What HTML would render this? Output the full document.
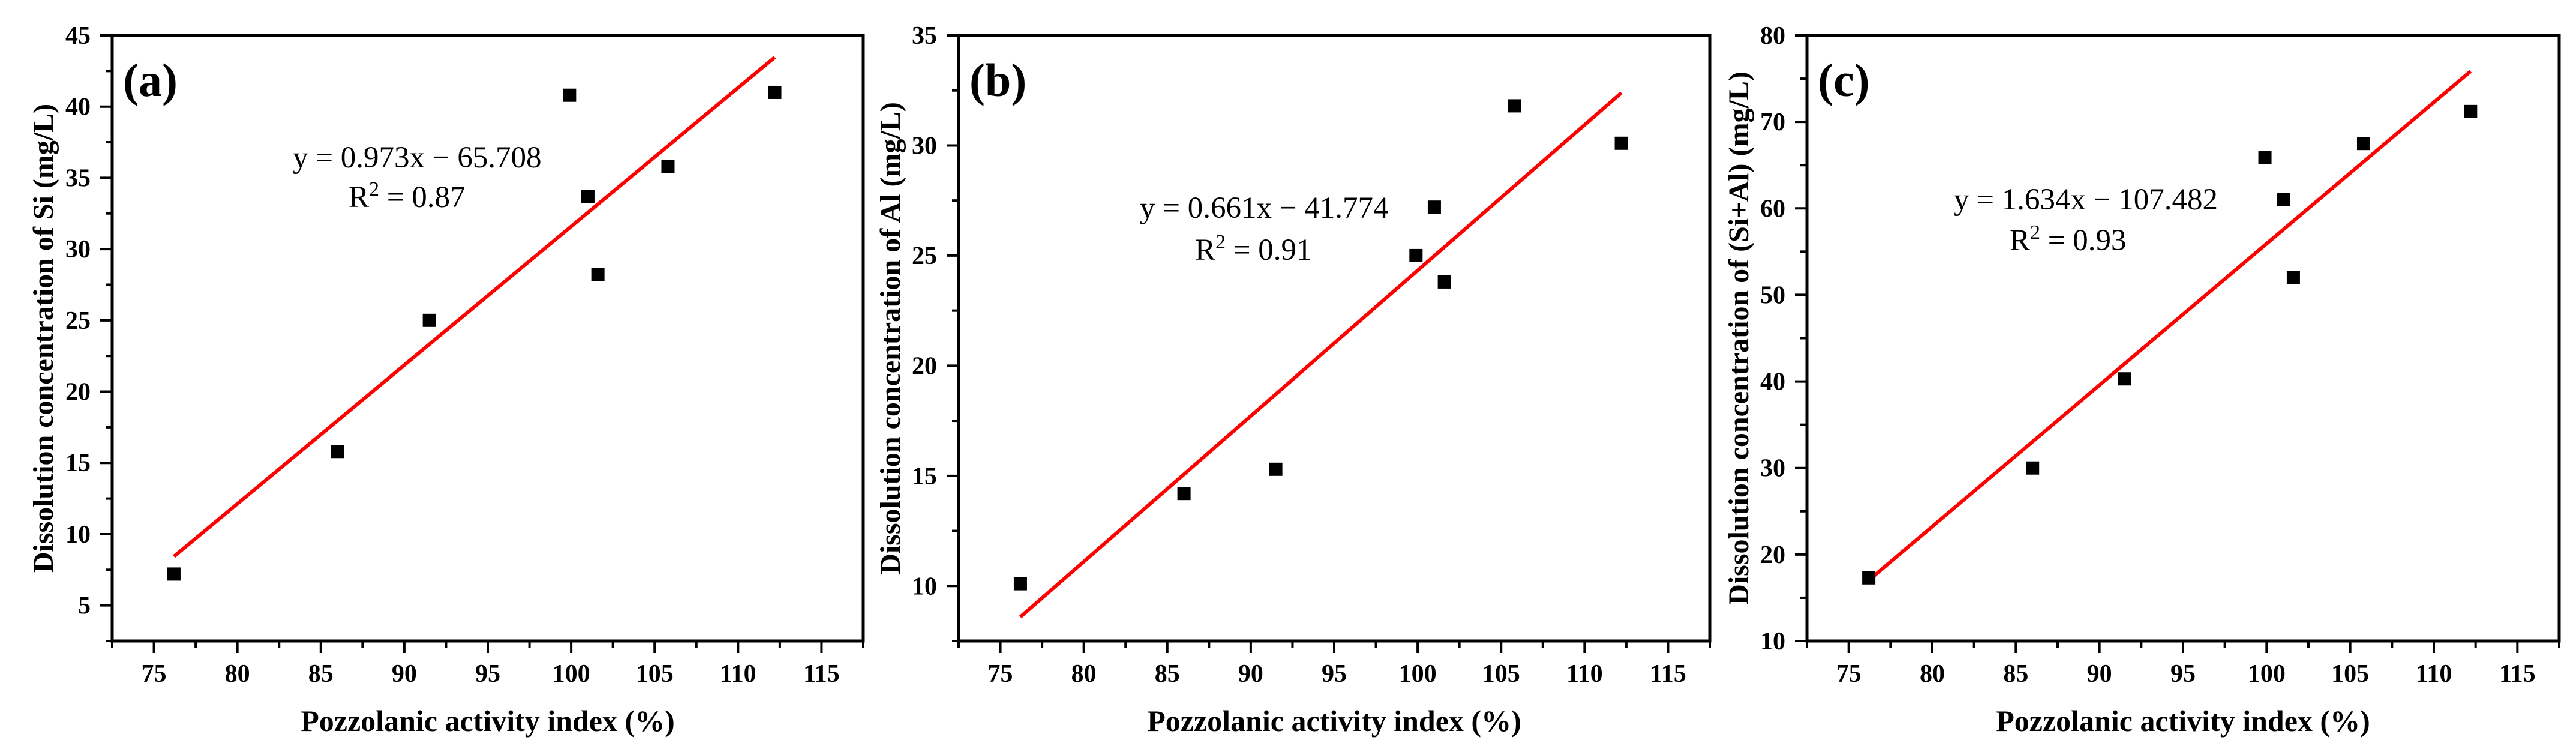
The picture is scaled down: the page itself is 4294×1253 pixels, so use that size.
<!DOCTYPE html>
<html><head><meta charset="utf-8"><style>
html,body{margin:0;padding:0;background:#fff}
svg{display:block;font-family:"Liberation Serif",serif}
</style></head><body>
<svg id="fig" width="4294" height="1253" viewBox="0 0 4294 1253" xmlns="http://www.w3.org/2000/svg"></svg>
<script>
const xValues = [76.2, 86.0, 91.5, 99.9, 101.0, 101.6, 105.8, 112.2];
const siValues = [7.2, 15.8, 25.0, 40.8, 33.7, 28.2, 35.8, 41.0];
const alValues = [10.1, 14.2, 15.3, 25.0, 27.2, 23.8, 31.8, 30.1];
const sumValues = [17.3, 30.0, 40.3, 65.9, 61.0, 52.0, 67.5, 71.2];
const xTicks = [75, 80, 85, 90, 95, 100, 105, 110, 115];
const siTicks = [5, 10, 15, 20, 25, 30, 35, 40, 45];
const alTicks = [10, 15, 20, 25, 30, 35];
const sumTicks = [10, 20, 30, 40, 50, 60, 70, 80];
const siFit = [0.973, -65.708];
const alFit = [0.661, -41.774];
const sumFit = [1.634, -107.482];
const fitRange = [76.2, 112.2];

const NS = "http://www.w3.org/2000/svg";
const svg = document.getElementById('fig');
function mk(tag, attrs, parent, text) {
  const e = document.createElementNS(NS, tag);
  for (const k in attrs) e.setAttribute(k, attrs[k]);
  if (text !== undefined) e.textContent = text;
  (parent || svg).appendChild(e);
  return e;
}

const panels = [
  {id:'a', left:187, right:1439, ymin:2.5, ymax:45, yStep:5, minorY:2.5, ticks:siTicks, data:siValues, fit:siFit,
   ytitle:'Dissolution concentration of Si (mg/L)', titleX:72,
   eq:'y = 0.973x − 65.708', r2:'0.87', eqX:488, eqY:279, r2X:581, r2Y:345},
  {id:'b', left:1598, right:2850, ymin:7.5, ymax:35, yStep:5, minorY:2.5, ticks:alTicks, data:alValues, fit:alFit,
   ytitle:'Dissolution concentration of Al (mg/L)', titleX:1484,
   eq:'y = 0.661x − 41.774', r2:'0.91', eqX:1900, eqY:363, r2X:1992, r2Y:433},
  {id:'c', left:3012, right:4266, ymin:10, ymax:80, yStep:10, minorY:5, ticks:sumTicks, data:sumValues, fit:sumFit,
   ytitle:'Dissolution concentration of (Si+Al) (mg/L)', titleX:2898,
   eq:'y = 1.634x − 107.482', r2:'0.93', eqX:3257, eqY:349, r2X:3350, r2Y:417}
];
const TOP = 59, BOTTOM = 1068, XMIN = 72.5, XMAX = 117.5;

panels.forEach(p => {
  const g = mk('g', {});
  
  
  const sx = v => p.left + (v - XMIN) / (XMAX - XMIN) * (p.right - p.left);
  const sy = v => BOTTOM - (v - p.ymin) / (p.ymax - p.ymin) * (BOTTOM - TOP);

  for (let v = XMIN; v <= XMAX + 0.001; v += 2.5) {
    const major = Math.abs(v % 5) < 0.001;
    const t = mk('line', {x1:sx(v), x2:sx(v), y1:BOTTOM, y2:BOTTOM + (major ? 20 : 11), stroke:'#000', 'stroke-width':4}, g);
    
    
  }
  xTicks.forEach(v => {
    const t = mk('text', {x:sx(v), y:1136, 'font-size':42, 'font-weight':'bold', 'text-anchor':'middle'}, g, String(v));
    
    
  });
  for (let v = p.ymin; v <= p.ymax + 0.001; v += p.minorY) {
    const major = Math.abs(v % p.yStep) < 0.001;
    const t = mk('line', {x1:p.left - (major ? 20 : 11), x2:p.left, y1:sy(v), y2:sy(v), stroke:'#000', 'stroke-width':4}, g);
    
    
  }
  p.ticks.forEach(v => {
    const t = mk('text', {x:p.left - 36, y:sy(v) + 14, 'font-size':42, 'font-weight':'bold', 'text-anchor':'end'}, g, String(v));
    
    
  });
  const fr = mk('rect', {x:p.left, y:TOP, width:p.right - p.left, height:BOTTOM - TOP, fill:'none', stroke:'#000', 'stroke-width':5}, g);
  
  

  const fl = mk('line', {x1:sx(fitRange[0]), y1:sy(p.fit[0]*fitRange[0]+p.fit[1]), x2:sx(fitRange[1]), y2:sy(p.fit[0]*fitRange[1]+p.fit[1]), stroke:'#ff0000', 'stroke-width':6}, g);
  
  

  xValues.forEach((xv, i) => {
    const r = mk('rect', {x:sx(xv) - 11, y:sy(p.data[i]) - 11, width:22, height:22, fill:'#000'}, g);
    
    
  });

  const pl = mk('text', {x:p.left + 18, y:160, 'font-size':78, 'font-weight':'bold'}, g, '(' + p.id + ')');
  
  

  const eq = mk('text', {x:p.eqX, y:p.eqY, 'font-size':51}, g, p.eq);
  
  
  const r2 = mk('text', {x:p.r2X, y:p.r2Y, 'font-size':51}, g);
  
  
  mk('tspan', {}, r2, 'R');
  mk('tspan', {dy:-19, 'font-size':34}, r2, '2');
  mk('tspan', {dy:19}, r2, ' = ' + p.r2);

  const xt = mk('text', {x:(p.left + p.right) / 2, y:1218, 'font-size':50, 'font-weight':'bold', 'text-anchor':'middle'}, g, 'Pozzolanic activity index (%)');
  
  
  const cy = (TOP + BOTTOM) / 2;
  const yt = mk('text', {x:p.titleX, y:cy, 'font-size':48, 'font-weight':'bold', 'text-anchor':'middle', transform:'rotate(-90 ' + p.titleX + ' ' + cy + ')', dy:16}, g, p.ytitle);
  
  
});
</script>
</body></html>
